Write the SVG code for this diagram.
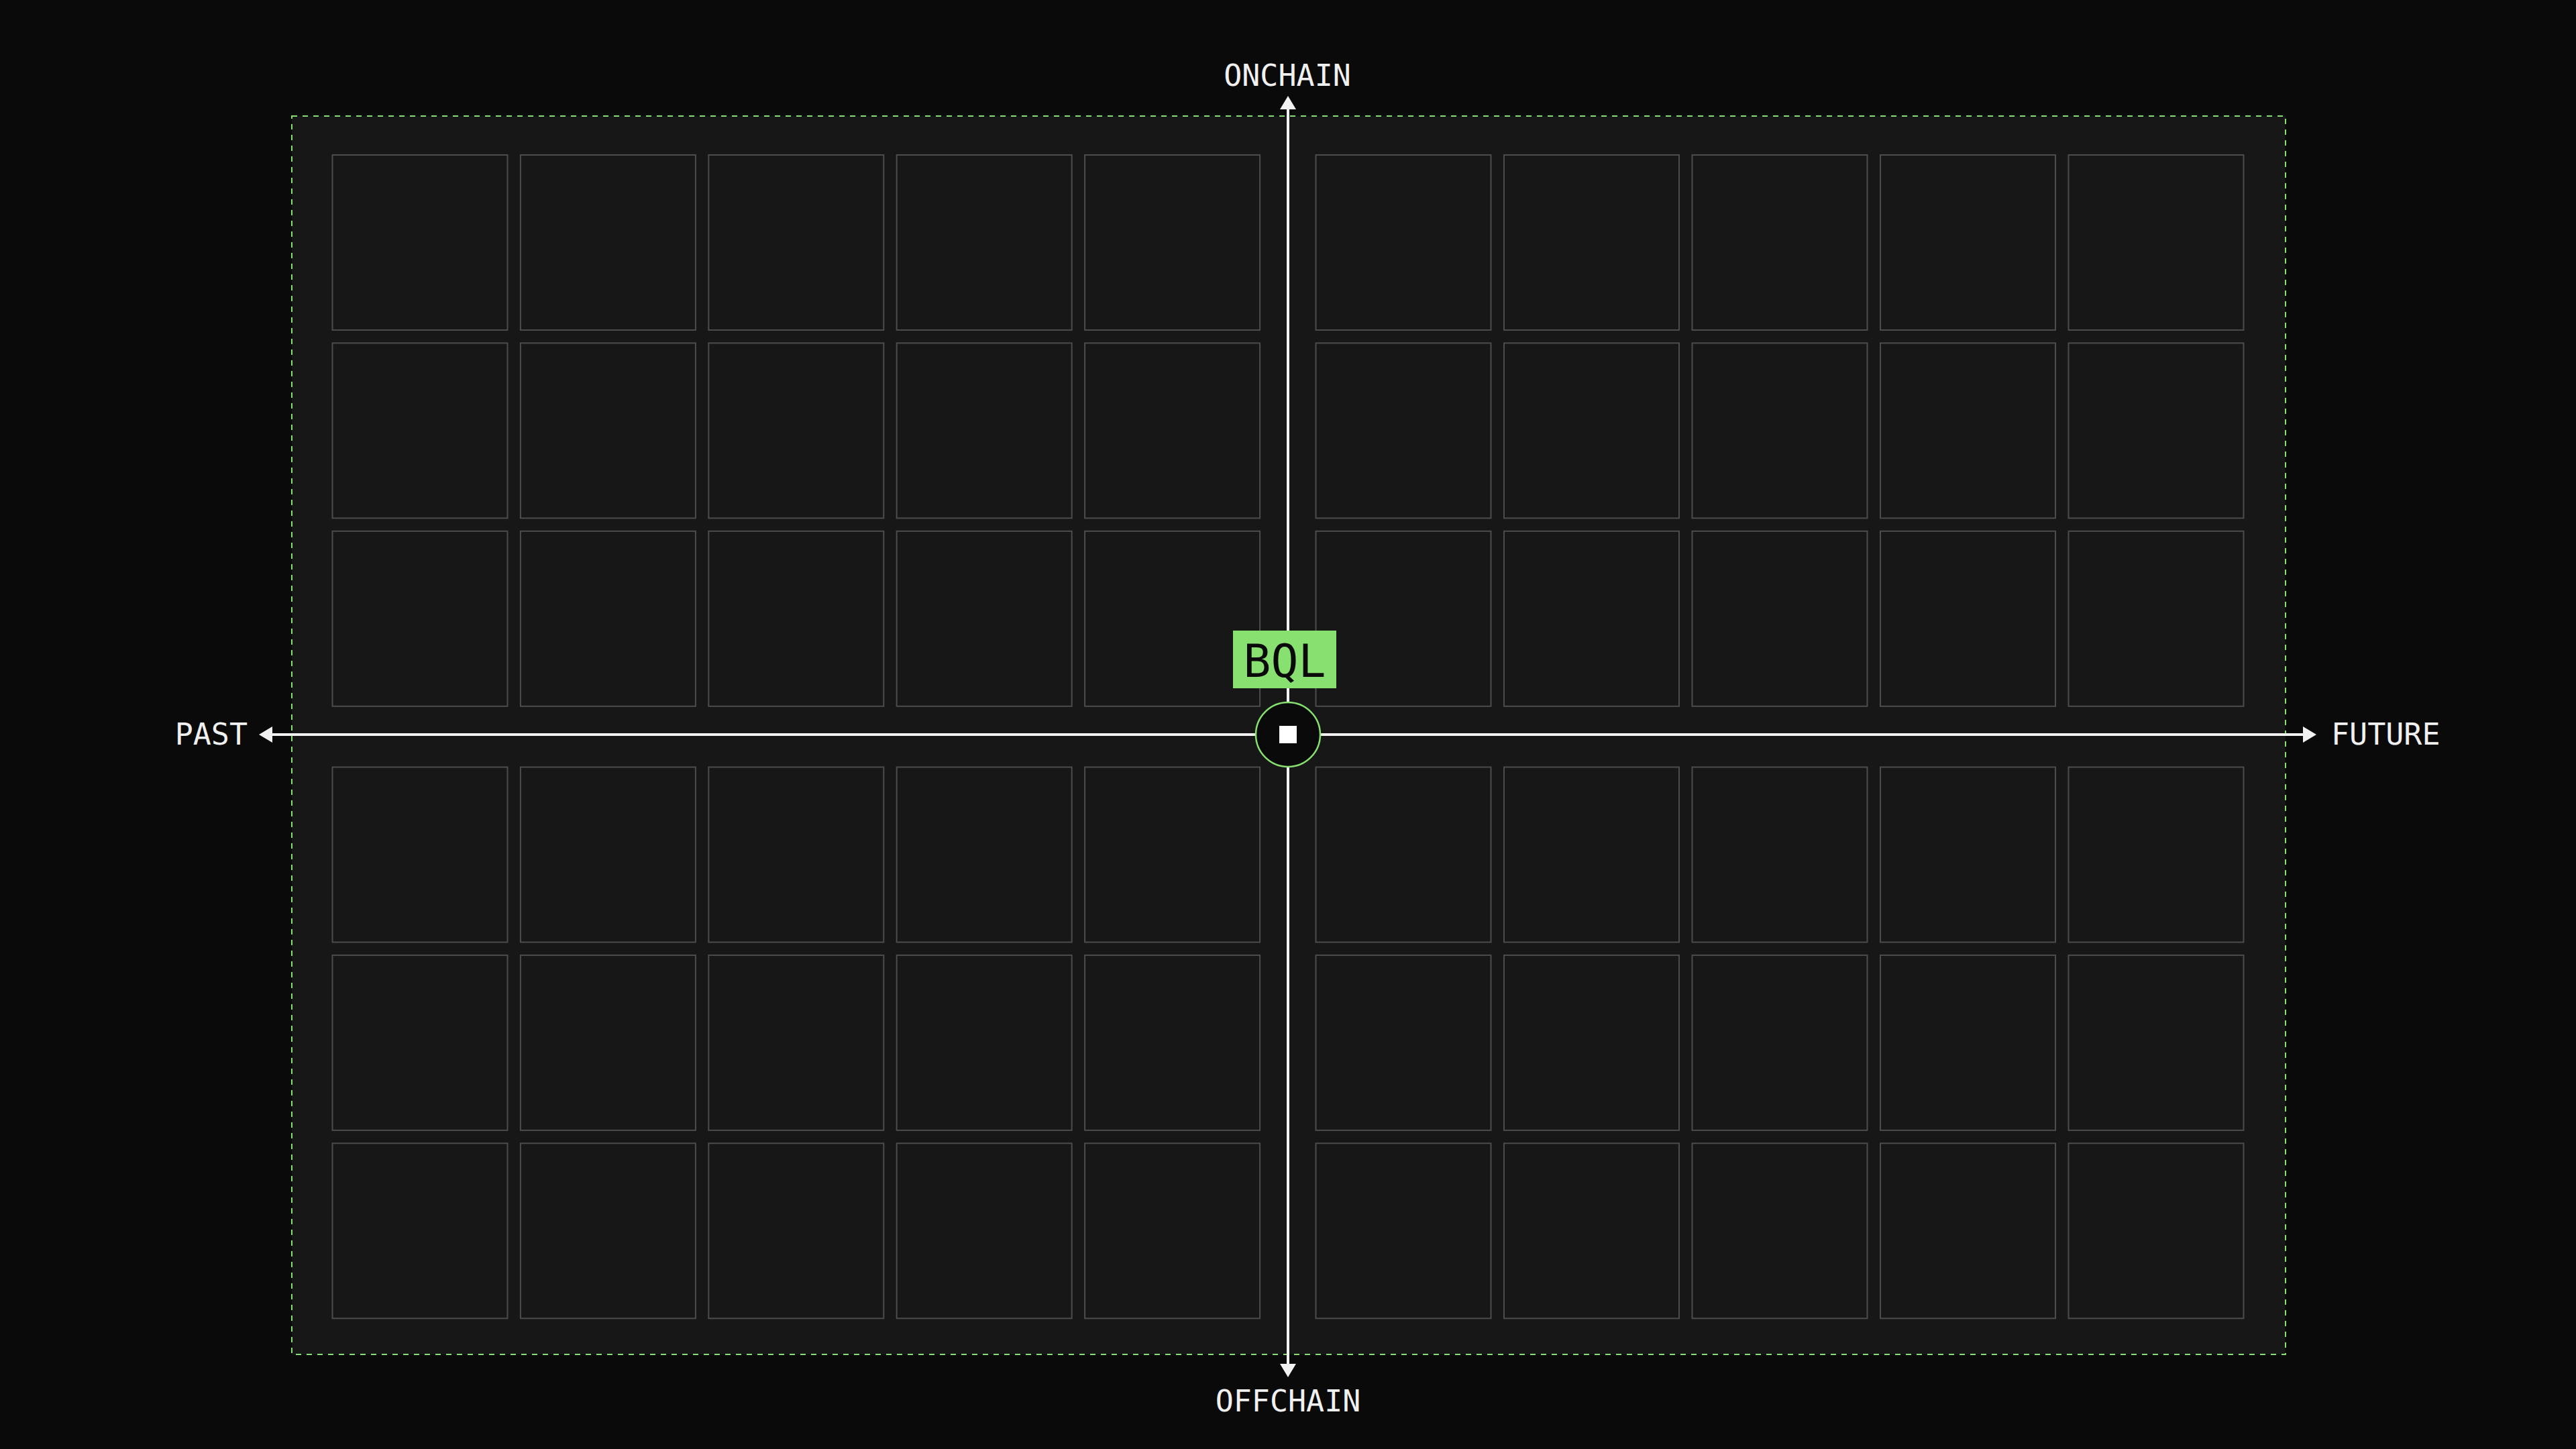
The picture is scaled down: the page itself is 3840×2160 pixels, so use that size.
<svg xmlns="http://www.w3.org/2000/svg" width="3840" height="2160" viewBox="0 0 3840 2160">
<style>
.cell{fill:#171717;stroke:#4c4c4c;stroke-width:2}
.axis{stroke:#f2f2f2;stroke-width:4;fill:none}
.lbl{font-family:"DejaVu Sans Mono","Liberation Mono",monospace;font-size:45px;fill:#f0f0f0}
</style>
<defs>
<marker id="ah" markerUnits="userSpaceOnUse" markerWidth="20" markerHeight="24" viewBox="0 0 20 24" refX="0" refY="12" orient="auto"><path d="M0,0 L20,12 L0,24 z" fill="#f2f2f2"/></marker>
<g id="cellrow">
<rect class="cell" x="495.5" y="0" width="261" height="261"/>
<rect class="cell" x="775.9" y="0" width="261" height="261"/>
<rect class="cell" x="1056.3" y="0" width="261" height="261"/>
<rect class="cell" x="1336.7" y="0" width="261" height="261"/>
<rect class="cell" x="1617.1" y="0" width="261" height="261"/>
<rect class="cell" x="1961.5" y="0" width="261" height="261"/>
<rect class="cell" x="2242" y="0" width="261" height="261"/>
<rect class="cell" x="2522.5" y="0" width="261" height="261"/>
<rect class="cell" x="2803" y="0" width="261" height="261"/>
<rect class="cell" x="3083.5" y="0" width="261" height="261"/>
</g>
</defs>
<rect width="3840" height="2160" fill="#0a0a0a"/>
<g id="panel"><rect x="435" y="173" width="2972" height="1846" fill="#171717" stroke="#86e06e" stroke-width="2" stroke-dasharray="8 8"/></g>
<g id="cells">
<use id="row1" href="#cellrow" y="231"/>
<use id="row2" href="#cellrow" y="511.4"/>
<use id="row3" href="#cellrow" y="791.8"/>
<use id="row4" href="#cellrow" y="1143.5"/>
<use id="row5" href="#cellrow" y="1423.9"/>
<use id="row6" href="#cellrow" y="1704.3"/>
</g>
<g id="connectors">
<line class="axis" x1="1920" y1="1095" x2="1920" y2="163" marker-end="url(#ah)"/>
<line class="axis" x1="1920" y1="1095" x2="1920" y2="2033" marker-end="url(#ah)"/>
<line class="axis" x1="1920" y1="1095" x2="406" y2="1095" marker-end="url(#ah)"/>
<line class="axis" x1="1920" y1="1095" x2="3433" y2="1095" marker-end="url(#ah)"/>
</g>
<g id="bql">
<rect x="1838" y="940" width="154" height="86" fill="#88e070"/>
<text x="1915" y="1009" text-anchor="middle" font-family="DejaVu Sans Mono,monospace" font-size="68" fill="#0a0a0a">BQL</text>
</g>
<g id="origin">
<circle cx="1920" cy="1095" r="48" fill="#0a0a0a" stroke="#86e06e" stroke-width="2.5"/>
<rect x="1907" y="1082" width="26" height="26" fill="#ffffff"/>
</g>
<g id="label-onchain"><text class="lbl" x="1919" y="128" text-anchor="middle">ONCHAIN</text></g>
<g id="label-offchain"><text class="lbl" x="1920" y="2104" text-anchor="middle">OFFCHAIN</text></g>
<g id="label-past"><text class="lbl" x="369" y="1110" text-anchor="end">PAST</text></g>
<g id="label-future"><text class="lbl" x="3475" y="1110">FUTURE</text></g>
</svg>
